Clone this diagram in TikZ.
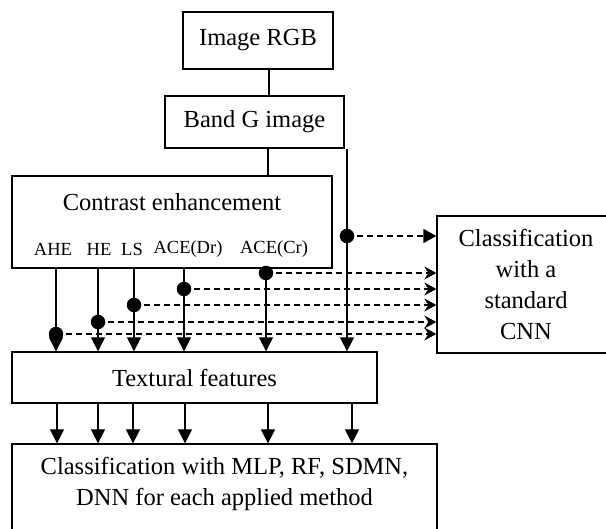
\documentclass[tikz,border=0pt]{standalone}
\usepackage{fontspec}
\setmainfont{Liberation Serif}
\usetikzlibrary{arrows.meta,calc}
\begin{document}
\begin{tikzpicture}[x=1pt,y=-1pt, line width=1.3pt,
  box/.style={draw, rectangle, inner sep=0pt, line width=1.3pt},
  main/.style={font=\fontsize{24.5}{31}\selectfont},
  lab/.style={font=\fontsize{18.5}{22}\selectfont, inner sep=0pt},
  dot/.style={circle, fill, inner sep=0pt, minimum size=14.5pt},
  solidarrow/.style={-{Triangle[length=14pt,width=14pt]}},
  dasharrow/.style={dash pattern=on 6pt off 4pt, -{Triangle[length=13pt,width=14pt]}},
  dasharrowb/.style={dash pattern=on 6pt off 4pt, -{Stealth[length=12pt,width=13pt,inset=4pt]}}]
\useasboundingbox (0,0) rectangle (606,529);
\clip (0,0) rectangle (606,529);

\node[box, minimum width=150pt, minimum height=57pt, main] (rgb) at (258,40.5) {Image RGB};
\node[box, minimum width=179pt, minimum height=52pt, main] (band) at (254.5,122) {Band G image};
\node[box, minimum width=320pt, minimum height=92pt] (ce) at (172,222) {};
\node[main, inner sep=0pt] (cetitle) at (172,202) {Contrast enhancement};
\node[lab] (lahe) at (53,249) {AHE};
\node[lab] (lhe) at (99,249) {HE};
\node[lab] (lls) at (132,249) {LS};
\node[lab] (ldr) at (188,249) {ACE(Dr)};
\node[lab] (lcr) at (274,249) {ACE(Cr)};
\node[box, minimum width=365pt, minimum height=51pt, main] (tex) at (194.5,377.5) {Textural features};
\node[box, minimum width=178pt, minimum height=137pt, main, align=center] (cnn) at (526,284.5) {Classification\\with a\\standard\\CNN};
\node[box, minimum width=425pt, minimum height=120pt] (cls) at (224.5,504) {};
\node[main, align=center, inner sep=0pt] (clstext) at (224.5,484) {Classification with MLP, RF, SDMN,\\DNN for each applied method};

% top connectors
\draw (269,0 |- rgb.south) -- (269,0 |- band.north);
\draw (268,0 |- band.south) -- (268,0 |- ce.north);

% right branch
\coordinate (dr) at (347,236);
\draw[solidarrow] (347,0 |- band.south) -- (347,0 |- tex.north);
\draw[dasharrow] (dr) -- (dr -| cnn.west);
\node[dot] at (dr) {};

% method branches
\foreach \x/\y/\n in {56/334/a, 98/322/b, 134/305/c, 184/289/d, 266/273/e} {
  \coordinate (d\n) at (\x,\y);
  \draw[solidarrow] (\x,0 |- ce.south) -- (\x,0 |- tex.north);
  \draw[dasharrowb] (d\n) -- (d\n -| cnn.west);
  \node[dot] at (d\n) {};
}

% bottom arrows
\foreach \x in {57,98,133,185,268,352} {
  \draw[solidarrow] (\x,0 |- tex.south) -- (\x,0 |- cls.north);
}
\end{tikzpicture}
\end{document}
